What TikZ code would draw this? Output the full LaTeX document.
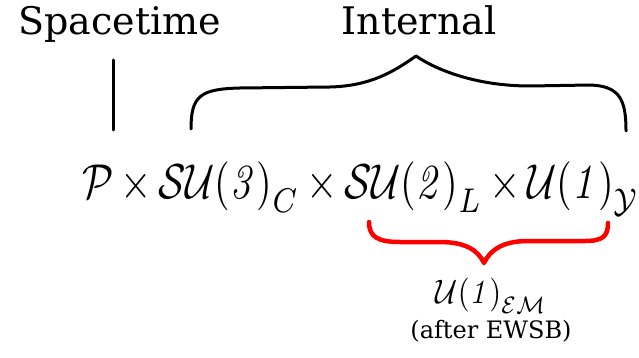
\documentclass[tikz,border=0pt]{standalone}
\usepackage{graphicx}
\usepackage{amsmath}
\usepackage[no-math]{fontspec}
\newfontfamily\labelfont{DejaVu Serif}
\begin{document}
\begin{tikzpicture}[x=1pt, y=-1pt, line join=round, line cap=round]
            \tikzset{
                bigtext/.style={font=\labelfont\fontsize{38}{44}\selectfont, inner sep=0pt},
                plaintext/.style={font=\normalsize, inner sep=0pt},
                notetext/.style={font=\labelfont\fontsize{24}{28}\selectfont, inner sep=0pt},
                blackbrace/.style={line width=3pt, black},
                redbrace/.style={line width=4.5pt, red}
            }
            \useasboundingbox (0,0) rectangle (639,358);
            \path
            (120,35) coordinate (S)
            (419,35) coordinate (I)
            (82,198) coordinate (G)
            (113,60) coordinate (V1)
            (113,130) coordinate (V2)
            (191,129) coordinate (BL)
            (416,56) coordinate (BT)
            (626,131) coordinate (BR)
            (369,222) coordinate (RL)
            (484,263) coordinate (RT)
            (608,223) coordinate (RR)
            (491,303) coordinate (E)
            (491,338) coordinate (N)
            ;
            \node[bigtext, anchor=base] (spacetime) at (S) {Spacetime};
            \node[bigtext, anchor=base] (internal) at (I) {Internal};
            \node[plaintext, anchor=base west] (group) at (G) {\scalebox{4.03}[4.9]{$\medmuskip=3mu
                \mathcal{P}\times\mathcal{SU}\mathit{(3)}_{C}\times\mathcal{SU}\mathit{(2)}_{L}\times\mathcal{U}\mathit{(1)}_{\mathcal{Y}}$}};
            \node[plaintext, anchor=base] (em) at (E) {\scalebox{3.05}[3.4]{$\mathcal{U}\mathit{(1)}_{\mathcal{EM}}$}};
            \node[notetext, anchor=base] (note) at (N) {(after EWSB)};
            % spacetime marker
            \draw[blackbrace] (V1)--(V2);
            % internal brace
            \draw[blackbrace] (BL) .. controls (191,96) and (200,89) .. (240,88)
                -- (330,87) .. controls (372,86) and (396,70) .. (BT)
                .. controls (438,71) and (478,86) .. (530,86)
                -- (590,85) .. controls (620,86) and (626,100) .. (BR);
            % electroweak brace
            \draw[redbrace] (RL) .. controls (369,237) and (378,242) .. (400,242)
                -- (440,242) .. controls (465,242) and (478,250) .. (RT)
                .. controls (490,250) and (503,241) .. (528,241)
                -- (585,241) .. controls (603,241) and (608,236) .. (RR);
        \end{tikzpicture}
\end{document}
